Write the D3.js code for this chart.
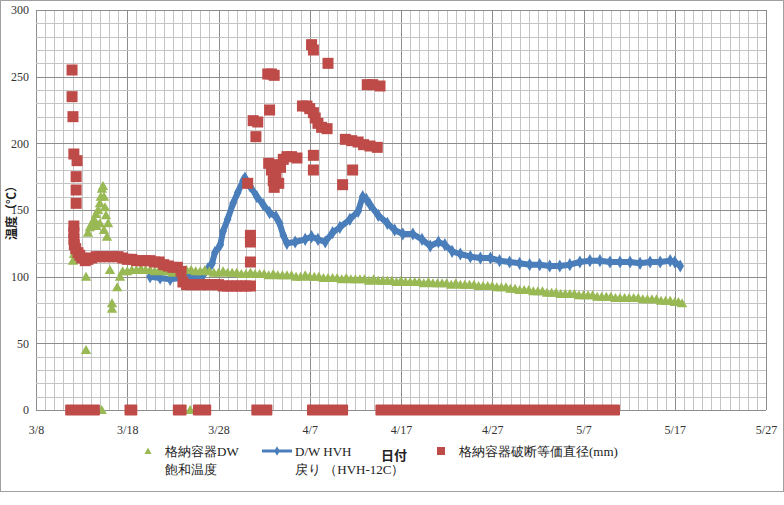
<!DOCTYPE html>
<html>
<head>
<meta charset="utf-8">
<script src="https://cdn.jsdelivr.net/npm/d3@7"></script>
<style>
  body { margin: 0; background: #fff; }
  svg { display: block; }
  .serif text, text.serif { font-family: "Liberation Serif", "DejaVu Serif", serif; }
  .cjk { font-family: "Noto Sans CJK JP", sans-serif; }
</style>
</head>
<body>
<svg id="chart" width="784" height="505"></svg>
<script>
// Day offsets count from 3/8 (2011), values in degC / mm

// x axis tick labels, every 10 days
const tickLabels = ["3/8", "3/18", "3/28", "4/7", "4/17", "4/27", "5/7", "5/17", "5/27"];
const yTicks = [0, 50, 100, 150, 200, 250, 300];

// 格納容器DW 飽和温度 (green triangles)
const satTemp = [
  [4.05, 112], [4.16, 117], [5.48, 100], [5.48, 45], [5.7, 133], [5.9, 137], [6.14, 140],
  [6.36, 143], [6.58, 147], [6.58, 138], [6.8, 150], [7.0, 155], [7.0, 140], [7.1, 160],
  [7.23, 166], [7.34, 168], [7.45, 160], [7.45, 135], [7.56, 152], [7.67, 146], [7.9, 140],
  [7.78, 130], [7.2, 0], [8.1, 105], [8.33, 80], [8.33, 76], [8.9, 92], [9.2, 100],
  [9.5, 104], [10, 104], [10.5, 105], [11, 105], [11.5, 106], [12, 105], [12.5, 105],
  [13, 104], [13.5, 105], [14, 104], [14.5, 104], [15, 103], [15.5, 104], [16, 104],
  [16.5, 105], [16.9, 0], [17, 105], [17.5, 104], [18, 104], [18.5, 105], [19, 104],
  [19.5, 103], [20, 103], [20.5, 104], [21, 103], [21.5, 103], [22, 103], [22.5, 102],
  [23, 102], [23.5, 103], [24, 102], [24.5, 102], [25, 102], [25.5, 101], [26, 102],
  [26.5, 101], [27, 101], [27.5, 101], [28, 101], [28.5, 100], [29, 100], [29.5, 101],
  [30, 100], [30.5, 100], [31, 100], [31.5, 99], [32, 99], [32.5, 99], [33, 99], [33.5, 98],
  [34, 99], [34.5, 98], [35, 98], [35.5, 98], [36, 98], [36.5, 97], [37, 98], [37.5, 97],
  [38, 97], [38.5, 97], [39, 97], [39.5, 96], [40, 97], [40.5, 96], [41, 96], [41.5, 96],
  [42, 96], [42.5, 95], [43, 96], [43.5, 95], [44, 95], [44.5, 95], [45, 95], [45.5, 94],
  [46, 95], [46.5, 94], [47, 94], [47.5, 94], [48, 94], [48.5, 93], [49, 93], [49.5, 93],
  [50, 93], [50.5, 92], [51, 92], [51.5, 92], [52, 91], [52.5, 91], [53, 90], [53.5, 90],
  [54, 90], [54.5, 89], [55, 89], [55.5, 89], [56, 88], [56.5, 88], [57, 88], [57.5, 87],
  [58, 87], [58.5, 87], [59, 87], [59.5, 86], [60, 86], [60.5, 86], [61, 86], [61.5, 85],
  [62, 85], [62.5, 85], [63, 85], [63.5, 84], [64, 84], [64.5, 84], [65, 84], [65.5, 84],
  [66, 84], [66.5, 83], [67, 83], [67.5, 83], [68, 83], [68.5, 82], [69, 82], [69.5, 82],
  [70, 81], [70.4, 81], [70.8, 80]
];

// D/W HVH 戻り (HVH-12C) (blue line)
const hvhReturn = [
  [12.5, 100], [13.6, 99], [14.7, 98], [15.8, 99], [16.9, 100], [17.6, 100], [18.3, 101],
  [18.85, 106], [19.3, 110], [19.6, 118], [20.2, 124], [20.5, 134], [21.0, 143], [21.6, 155],
  [22.1, 163], [22.7, 172], [22.9, 174], [23.45, 168], [24.2, 160], [24.9, 154], [25.6, 148],
  [26.3, 145], [26.7, 140], [27.1, 131], [27.5, 125], [28.4, 126], [29.5, 128], [30.2, 130],
  [30.9, 128], [31.7, 126], [32.5, 133], [33.3, 137], [34.4, 143], [35.3, 149], [35.8, 160],
  [36.2, 158], [36.6, 154], [37.5, 146], [38.5, 140], [39.3, 135], [40.2, 132], [41.3, 132],
  [42.3, 128], [43.2, 123], [44.1, 126], [44.8, 124], [45.6, 119], [46.5, 117], [47.6, 115],
  [48.7, 114], [49.8, 114], [50.8, 112], [51.9, 111], [53.0, 110], [54.1, 109], [55.2, 109],
  [56.3, 108], [57.4, 108], [58.5, 109], [59.6, 111], [60.7, 112], [61.8, 112], [62.9, 111],
  [64.0, 111], [65.1, 111], [66.2, 110], [67.3, 111], [68.4, 111], [69.5, 112], [70.0, 111],
  [70.6, 108]
];

// 格納容器破断等価直径(mm) (red squares), non-zero readings
const breakDiam = [
  [3.95, 255], [3.95, 235], [4.05, 220], [4.15, 192], [4.5, 187], [4.4, 175], [4.4, 165],
  [4.4, 155], [4.15, 138], [4.15, 133], [4.15, 128], [4.2, 124], [4.35, 121], [4.6, 118],
  [4.8, 116], [5.0, 114], [5.4, 112], [5.7, 113], [6.1, 114], [6.6, 115], [7.0, 115],
  [7.5, 115], [8.0, 115], [8.5, 115], [9.0, 115], [9.5, 114], [10.0, 113], [10.5, 113],
  [11.0, 112], [11.5, 112], [12.0, 112], [12.5, 112], [13.0, 111], [13.5, 111], [14.0, 109],
  [14.5, 108], [15.0, 107], [15.5, 107], [15.9, 104], [16.1, 96], [16.5, 94], [17.0, 94],
  [17.5, 94], [18.0, 94], [18.5, 94], [19.0, 94], [19.5, 94], [20.0, 94], [20.5, 93],
  [21.0, 93], [21.5, 93], [22.0, 93], [22.5, 93], [23.0, 93], [23.5, 93],
  [23.2, 170], [23.5, 131], [23.5, 126], [23.5, 111], [23.8, 217], [24.1, 205], [24.3, 216],
  [25.6, 225], [25.4, 252], [25.8, 252], [26.1, 251],
  [25.5, 185], [25.8, 180], [26.0, 172], [26.1, 167], [26.3, 177], [26.5, 184], [26.6, 170],
  [26.8, 182], [27.1, 188], [27.5, 190], [28.0, 190], [28.6, 189],
  [29.2, 228], [29.7, 228], [30.0, 226], [30.4, 223], [30.6, 219], [30.9, 215], [31.3, 212],
  [31.9, 211], [30.4, 191], [30.4, 180], [30.2, 274], [30.4, 270], [32.0, 260], [33.6, 169],
  [33.9, 203], [34.6, 202], [35.3, 201], [35.9, 199], [36.6, 198], [37.4, 197], [34.7, 180],
  [36.3, 244], [36.9, 244], [37.7, 243]
];

// runs of consecutive zero readings of the break diameter [firstDay, lastDay]
const breakZeroRuns = [
  [3.8, 6.4], [10.3, 10.5], [15.6, 15.9], [17.8, 18.6], [24.2, 25.3], [30.3, 33.6], [37.8, 63.4]
];

const GREEN = "#98b954", BLUE = "#4a7ebb", RED = "#be4b48";

function drawChart() {
  const svg = d3.select("#chart");
  const margin = { left: 36, top: 10 };
  const width = 730, height = 400;

  // outer chart frame
  svg.append("rect")
    .attr("x", 0.5).attr("y", 0.5).attr("width", 783).attr("height", 491)
    .attr("fill", "#fff").attr("stroke", "#a0a0a0");

  const g = svg.append("g").attr("transform", `translate(${margin.left},${margin.top})`);

  const x = d3.scaleLinear().domain([0, 80]).range([0, width]);
  const y = d3.scaleLinear().domain([0, 300]).range([height, 0]);

  // grid: minor every day / 10 degrees, major every 10 days / 50 degrees
  g.append("g").selectAll("line").data(d3.range(0, 81))
    .join("line")
    .attr("x1", d => Math.round(x(d)) + 0.5).attr("x2", d => Math.round(x(d)) + 0.5)
    .attr("y1", 0).attr("y2", height)
    .attr("stroke", d => d % 10 === 0 ? "#8c8c8c" : "#c4c4c4");
  g.append("g").selectAll("line").data(d3.range(0, 301, 10))
    .join("line")
    .attr("y1", d => Math.round(y(d)) + 0.5).attr("y2", d => Math.round(y(d)) + 0.5)
    .attr("x1", 0).attr("x2", width)
    .attr("stroke", d => d % 50 === 0 ? "#8c8c8c" : "#c4c4c4");

  // axes (labels only, Excel style)
  const xAxis = d3.axisBottom(x).tickValues(d3.range(0, 81, 10))
    .tickFormat((d, i) => tickLabels[i]).tickSize(0).tickPadding(15);
  g.append("g").attr("class", "serif").attr("transform", `translate(0,${height})`).call(xAxis)
    .attr("font-family", null).attr("font-size", 12)
    .call(a => a.select(".domain").remove())
    .selectAll("text").attr("fill", "#333");

  const yAxis = d3.axisLeft(y).tickValues(yTicks).tickSize(0).tickPadding(7);
  g.append("g").attr("class", "serif").call(yAxis)
    .attr("font-family", null).attr("font-size", 12)
    .call(a => a.select(".domain").remove())
    .selectAll("text").attr("fill", "#333");

  // blue line with diamond markers
  const line = d3.line().x(d => x(d[0])).y(d => y(d[1]));
  g.append("path").datum(hvhReturn)
    .attr("d", line).attr("fill", "none")
    .attr("stroke", BLUE).attr("stroke-width", 6).attr("stroke-linejoin", "round");
  g.append("g").selectAll("path").data(hvhReturn)
    .join("path")
    .attr("transform", d => `translate(${x(d[0])},${y(d[1])})`)
    .attr("d", d3.symbol(d3.symbolDiamond, 50))
    .attr("fill", BLUE);

  // green triangles
  const tri = "M0,-5L5.2,4L-5.2,4Z";
  g.append("g").selectAll("path").data(satTemp)
    .join("path")
    .attr("transform", d => `translate(${x(d[0])},${y(d[1])})`)
    .attr("d", tri).attr("fill", GREEN);

  // red squares
  g.append("g").selectAll("rect").data(breakDiam)
    .join("rect")
    .attr("x", d => x(d[0]) - 5.5).attr("y", d => y(d[1]) - 5.5)
    .attr("width", 11).attr("height", 11).attr("fill", RED);
  g.append("g").selectAll("rect").data(breakZeroRuns)
    .join("rect")
    .attr("x", d => x(d[0]) - 5.5).attr("y", y(0) - 5.5)
    .attr("width", d => x(d[1]) - x(d[0]) + 11).attr("height", 11)
    .attr("rx", 1).attr("fill", RED);

  // axis titles
  svg.append("text").attr("class", "cjk")
    .attr("transform", "translate(16,210) rotate(-90)")
    .attr("text-anchor", "middle")
    .attr("font-size", 12).attr("font-weight", "bold").attr("fill", "#222")
    .text("温度（℃）");
  svg.append("text").attr("class", "cjk")
    .attr("x", 394).attr("y", 460).attr("text-anchor", "middle")
    .attr("font-size", 13).attr("font-weight", "bold").attr("fill", "#222")
    .text("日付");

  // legend
  const lg = svg.append("g").attr("class", "serif").attr("font-size", 13).attr("fill", "#222");
  lg.append("path").attr("transform", "translate(148,451)").attr("d", "M0,-3.5L3.5,3L-3.5,3Z").attr("fill", GREEN);
  lg.append("text").attr("x", 165).attr("y", 456).text("格納容器DW");
  lg.append("text").attr("x", 165).attr("y", 474).text("飽和温度");

  lg.append("line").attr("x1", 262).attr("x2", 292).attr("y1", 451).attr("y2", 451)
    .attr("stroke", BLUE).attr("stroke-width", 3);
  lg.append("path").attr("transform", "translate(277,451)")
    .attr("d", d3.symbol(d3.symbolDiamond, 25)).attr("fill", BLUE);
  lg.append("text").attr("x", 295).attr("y", 456).text("D/W HVH");
  lg.append("text").attr("x", 295).attr("y", 474).text("戻り （HVH-12C）");

  lg.append("rect").attr("x", 437).attr("y", 447).attr("width", 8).attr("height", 8).attr("fill", RED);
  lg.append("text").attr("x", 459).attr("y", 456).text("格納容器破断等価直径(mm)");
}

drawChart();
</script>
</body>
</html>
